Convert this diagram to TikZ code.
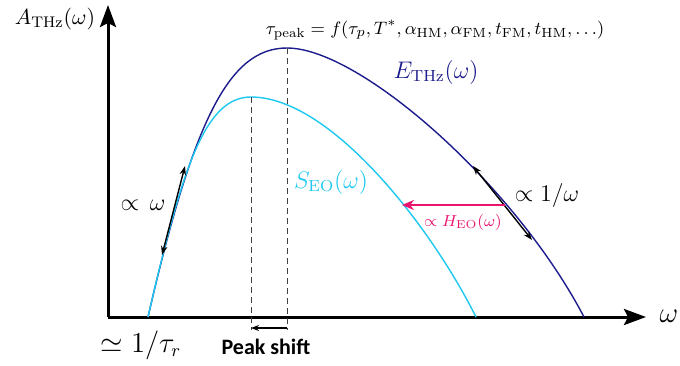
\documentclass[tikz,border=0pt]{standalone}
\usepackage{fontspec}
\newfontfamily\peakfont{Carlito}
\usetikzlibrary{arrows.meta}
\definecolor{navyc}{RGB}{28,28,140}
\definecolor{cyanc}{RGB}{30,200,240}
\definecolor{pinkc}{RGB}{232,20,110}
\tikzset{
  axis/.style={line width=1.5pt,-{Stealth[length=11pt,width=8pt,inset=2pt]}},
  curve/.style={line width=0.7pt},
  guide/.style={line width=0.5pt,densely dashed,black!75},
  tang/.style={line width=0.7pt,{Stealth[length=4.5pt,width=3.2pt]}-{Stealth[length=4.5pt,width=3.2pt]}},
  lbl/.style={inner sep=0pt},
}
\begin{document}
\begin{tikzpicture}[x=0.5pt,y=-0.5pt]
\useasboundingbox (0,0) rectangle (680,365);
% axes
\coordinate (O) at (108,317);
\coordinate (ytip) at (108,5);
\coordinate (xtip) at (646,317);
\draw[axis] (O) -- (ytip);
\draw[axis] (O) -- (xtip);
% curves
\draw[curve,navyc] (148,317) .. controls (194,117) and (230,48) .. (287,48)
   .. controls (360,48) and (515,185) .. (584,317);
\draw[curve,cyanc] (148,317) .. controls (182.5,167) and (205,97) .. (251,97)
   .. controls (330,97) and (430,225) .. (476,317);
% dashed guides
\coordinate (pS) at (251,97);
\coordinate (pE) at (287,48);
\coordinate (bS) at (251,330);
\coordinate (bE) at (287,330);
\draw[guide] (pS) -- (bS);
\draw[guide] (pE) -- (bE);
\coordinate (sA) at (287,328);
\coordinate (sB) at (251,328);
\draw[line width=0.6pt,-{Stealth[length=4pt,width=3pt]}] (sA) -- (sB);
% tangents
\coordinate (t1a) at (162,255);
\coordinate (t1b) at (185,166);
\draw[tang] (t1a) -- (t1b);
\coordinate (t2a) at (473,166);
\coordinate (t2b) at (532,240);
\draw[tang] (t2a) -- (t2b);
% pink arrow
\coordinate (h1) at (505,205);
\coordinate (h2) at (402,205);
\draw[pinkc,line width=1pt,-{Stealth[length=6pt,width=5pt]}] (h1) -- (h2);
% labels
\node[lbl,font=\fontsize{11}{13}\selectfont] (ya) at (55,19) {$A_{\mathrm{THz}}(\omega)$};
\node[lbl,font=\fontsize{14}{16}\selectfont] (xa) at (669,316) {$\omega$};
\node[lbl,font=\fontsize{9.5}{11}\selectfont] (tp) at (435,30) {$\tau_{\mathrm{peak}}=f(\tau_p,T^{*},\alpha_{\mathrm{HM}},\alpha_{\mathrm{FM}},t_{\mathrm{FM}},t_{\mathrm{HM}},\ldots)$};
\node[lbl,navyc,font=\fontsize{11.5}{13}\selectfont] (El) at (436,72) {$E_{\mathrm{THz}}(\omega)$};
\node[lbl,cyanc,font=\fontsize{12}{14}\selectfont] (Sl) at (331,182) {$S_{\mathrm{EO}}(\omega)$};
\node[lbl,pinkc,font=\fontsize{8.3}{10}\selectfont] (Hl) at (463,222) {$\propto H_{\mathrm{EO}}(\omega)$};
\node[lbl,font=\fontsize{12.5}{14}\selectfont] (w1) at (547,195) {$\propto 1/\omega$};
\node[lbl,font=\fontsize{12.5}{14}\selectfont] (w0) at (143,205) {$\propto\,\omega$};
\node[lbl,font=\fontsize{13.5}{15}\selectfont] (tr) at (141,345) {$\simeq 1/\tau_r$};
\node[lbl,font=\peakfont\bfseries\fontsize{11}{13}\selectfont] (ps) at (266,347) {Peak shift};
\end{tikzpicture}
\end{document}
